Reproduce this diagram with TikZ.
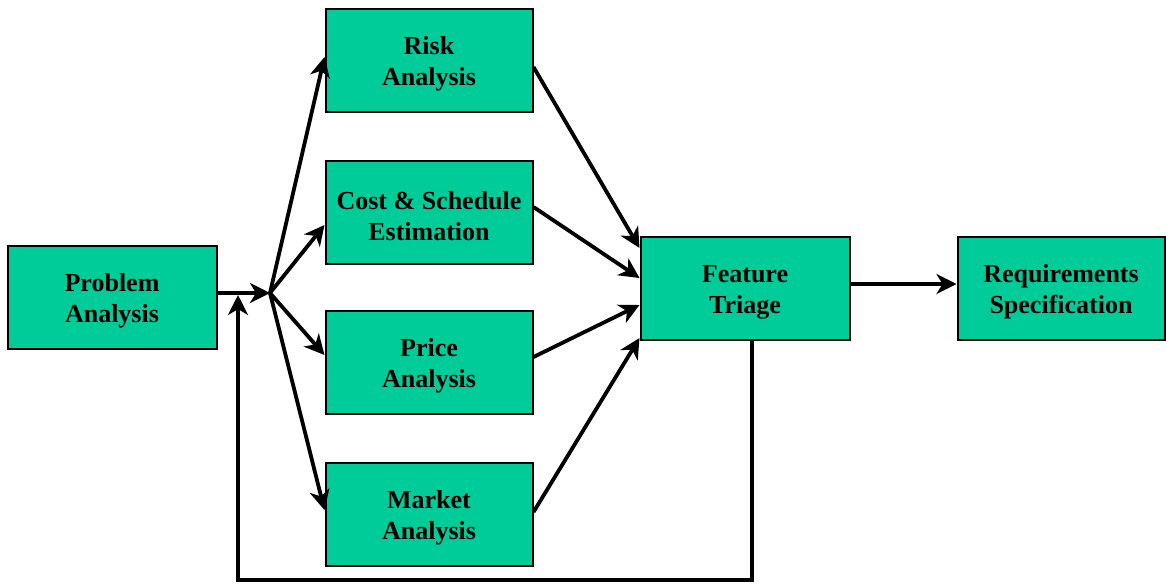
\documentclass[tikz,border=0pt]{standalone}
\usepackage{fontspec}
\setmainfont{Liberation Serif}
\usetikzlibrary{arrows.meta}
\definecolor{boxgreen}{RGB}{0,204,153}
\begin{document}
\begin{tikzpicture}[x=1pt,y=-1pt,
  box/.style={draw=black,line width=2pt,fill=boxgreen,minimum width=207pt,minimum height=103pt,
    inner sep=0pt},
  boxtext/.style={align=center,inner sep=0pt,yshift=-4pt,font=\fontsize{26}{31}\selectfont\bfseries},
  flow/.style={line width=3.8pt,-{Stealth[length=20pt,width=20pt,inset=6pt]}}]
\useasboundingbox (0,0) rectangle (1166,584);

% process steps
\node[box,minimum width=209pt,label={[boxtext]center:Problem\\Analysis}] (P) at (112,297) {};
\node[box,label={[boxtext]center:Risk\\Analysis}] (R) at (429,60) {};
\node[box,label={[boxtext]center:Cost \& Schedule\\Estimation}] (C) at (429,212) {};
\node[box,label={[boxtext]center:Price\\Analysis}] (Pr) at (429,362) {};
\node[box,label={[boxtext]center:Market\\Analysis}] (M) at (429,514) {};
\node[box,minimum width=209pt,label={[boxtext]center:Feature\\Triage}] (F) at (745,288) {};
\node[box,label={[boxtext]center:Requirements\\Specification}] (S) at (1061,288) {};

% branching point and feedback corners
\coordinate (fork) at (270,293);
\coordinate (loopR) at (752,580);
\coordinate (loopL) at (238,580);

% into the branching point
\draw[flow] (P.east |- fork) -- (fork);

% fan-out to the analyses
\draw[flow] (fork) -- ([yshift=3pt]R.west);
\draw[flow] (fork) -- ([yshift=-13pt]C.west);
\draw[flow] (fork) -- ([yshift=7pt]Pr.west);
\draw[flow] (fork) -- ([yshift=4pt]M.west);

% fan-in to feature triage
\draw[flow] ([yshift=-7pt]R.east) -- ([yshift=40pt]F.west);
\draw[flow] ([yshift=5pt]C.east) -- ([yshift=10pt]F.west);
\draw[flow] ([yshift=5pt]Pr.east) -- ([yshift=-17pt]F.west);
\draw[flow] ([yshift=2pt]M.east) -- ([yshift=-50pt]F.west);

% to the specification
\draw[flow] ([yshift=4pt]F.east) -- ([yshift=4pt]S.west);

% feedback loop
\draw[flow] (F.south -| loopR) -- (loopR) -- (loopL) -- ([yshift=-2pt]loopL |- fork);
\end{tikzpicture}
\end{document}
